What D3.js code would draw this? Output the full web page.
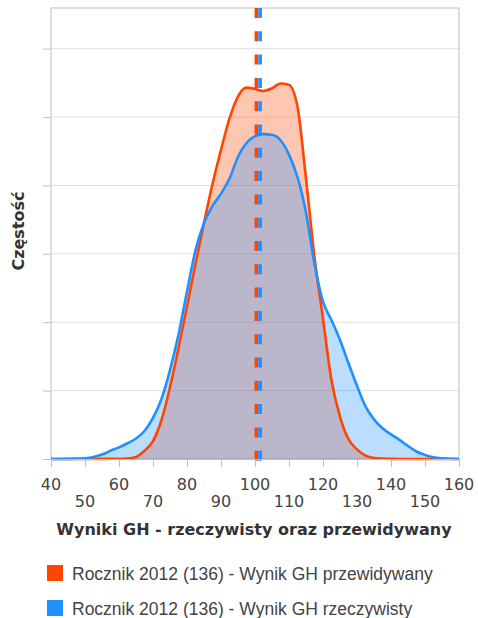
<!DOCTYPE html>
<html><head><meta charset="utf-8">
<script src="https://cdn.jsdelivr.net/npm/d3@7"></script>
<style>body{margin:0;background:#fff}svg{display:block}</style>
</head><body>
<svg id="c" width="478" height="618"></svg>
<script>
const scores = [40,42.5,45,47.5,50,52.5,55,57.5,60,62.5,65,67.5,70,72.5,75,77.5,80,82.5,85,87.5,90,92.5,95,97.5,100,102.5,105,107.5,110,112.5,115,117.5,120,122.5,125,127.5,130,132.5,135,137.5,140,142.5,145,147.5,150,152.5,155,157.5,160];
const predicted = [0,0,0,0,0,0.001,0.002,0.003,0.004,0.008,0.03,0.12,0.26,0.57,1.05,1.62,2.23,2.85,3.45,4.02,4.52,4.98,5.3,5.43,5.41,5.38,5.42,5.49,5.47,5.15,4.1,2.95,2.05,1.15,0.62,0.29,0.14,0.05,0.015,0.005,0.002,0,0,0,0,0,0,0,0];
const actual = [0,0,0.002,0.005,0.012,0.03,0.065,0.12,0.17,0.23,0.30,0.41,0.6,0.88,1.3,1.82,2.45,3.05,3.45,3.7,3.88,4.1,4.42,4.62,4.72,4.75,4.74,4.66,4.45,4.12,3.6,2.85,2.3,2.03,1.74,1.4,1.07,0.77,0.58,0.45,0.36,0.28,0.19,0.11,0.06,0.025,0.01,0.003,0];
const means = [100.4, 101.5];
const xTicks = [40,50,60,70,80,90,100,110,120,130,140,150,160];
const yTicks = [0,1,2,3,4,5,6];
const seriesNames = ["Rocznik 2012 (136) - Wynik GH przewidywany","Rocznik 2012 (136) - Wynik GH rzeczywisty"];
const colors = ["#FF4500","#1E90FF"];
const xTitle = "Wyniki GH - rzeczywisty oraz przewidywany";
const yTitle = "Częstość";

const svg = d3.select("#c");
const L=51,R=459,T=8,B=459;
const x = d3.scaleLinear().domain([40,160]).range([L,R]);
const y = d3.scaleLinear().domain([0,6.594]).range([B,T]);

// gridlines
svg.append("g").selectAll("line").data(yTicks.slice(1)).join("line")
  .attr("x1",L).attr("x2",R).attr("y1",d=>y(d)).attr("y2",d=>y(d))
  .attr("stroke","#e0e0e0").attr("stroke-width",1);

// y axis (no labels)
const yAxis = d3.axisLeft(y).tickValues(yTicks).tickSize(8).tickFormat("");
const gy = svg.append("g").attr("transform",`translate(${L},0)`).call(yAxis);
gy.select(".domain").remove();
gy.selectAll(".tick line").attr("stroke","#c0c0c0");

// plot border
svg.append("rect").attr("x",L).attr("y",T).attr("width",R-L).attr("height",B-T)
  .attr("fill","none").attr("stroke","#c8c8c8").attr("stroke-width",1.2);

const seriesVals=[predicted,actual];
const ptsAll = seriesVals.map(vals=>scores.map((s,k)=>[s,vals[k]]));
const area = d3.area().x(d=>x(d[0])).y0(B).y1(d=>y(d[1])).curve(d3.curveMonotoneX);
const line = d3.line().x(d=>x(d[0])).y(d=>y(d[1])).curve(d3.curveMonotoneX);
ptsAll.forEach((pts,i)=>{
  svg.append("path").attr("d",area(pts)).attr("fill",colors[i]).attr("fill-opacity",0.3);
});
ptsAll.forEach((pts,i)=>{
  svg.append("path").attr("d",line(pts)).attr("fill","none").attr("stroke",colors[i]).attr("stroke-width",2.6);
});

// mean dashed lines
means.forEach((m,i)=>{
  svg.append("line").attr("x1",x(m)).attr("x2",x(m)).attr("y1",T).attr("y2",B+2)
   .attr("stroke",colors[i]).attr("stroke-width",3.6).attr("stroke-dasharray","10,13.3");
});

// x axis
const xAxis = d3.axisBottom(x).tickValues(xTicks).tickSize(8).tickFormat("");
const gx = svg.append("g").attr("transform",`translate(0,${B})`).call(xAxis);
gx.select(".domain").attr("stroke","#c0c0c0");
gx.selectAll(".tick line").attr("stroke","#c0c0c0");
svg.append("g").selectAll("text").data(xTicks).join("text")
  .attr("x",d=>x(d)).attr("y",(d,i)=> i%2===0 ? 489.5 : 506.5)
  .attr("text-anchor","middle").attr("font-family","DejaVu Sans, Verdana, sans-serif")
  .attr("font-size",16).attr("fill","#444").text(d=>d);

svg.append("text").attr("x",254).attr("y",535).attr("text-anchor","middle")
  .attr("font-family","DejaVu Sans, Verdana, sans-serif").attr("font-weight","bold")
  .attr("font-size",16).attr("fill","#333").text(xTitle);

svg.append("text").attr("transform","translate(24,231) rotate(-90)").attr("text-anchor","middle")
  .attr("font-family","DejaVu Sans, Verdana, sans-serif").attr("font-weight","bold")
  .attr("font-size",16).attr("fill","#333").text(yTitle);

// legend
const lg = svg.append("g").selectAll("g").data(seriesNames).join("g")
  .attr("transform",(d,i)=>`translate(47,${565+i*35})`);
lg.append("rect").attr("width",16).attr("height",16).attr("fill",(d,i)=>colors[i]);
lg.append("text").attr("x",25).attr("y",14.5).attr("font-family","Liberation Sans, Arial, sans-serif")
  .attr("font-size",17.5).attr("fill","#444").text(d=>d);
</script>
</body></html>
